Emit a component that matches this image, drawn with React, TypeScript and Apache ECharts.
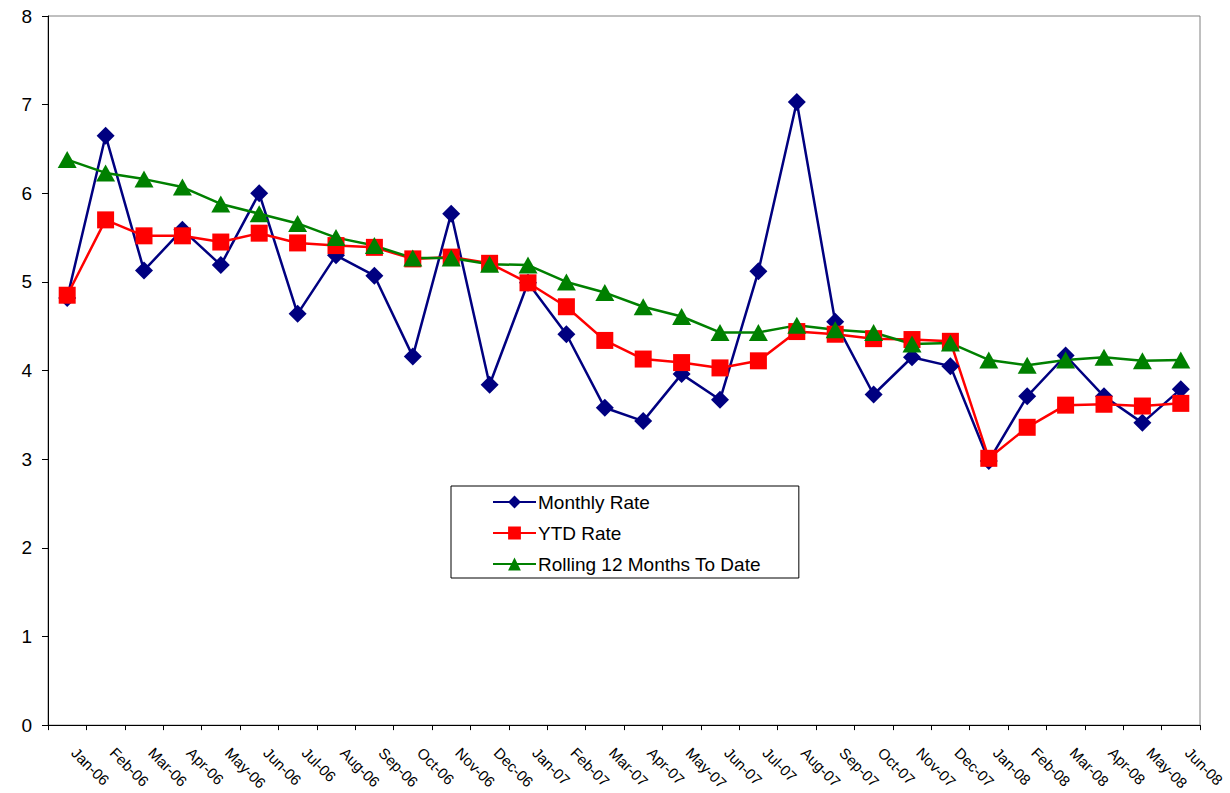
import React, { useEffect, useRef } from "react";
import * as echarts from "echarts";

const months = [
  "Jan-06", "Feb-06", "Mar-06", "Apr-06", "May-06", "Jun-06", "Jul-06", "Aug-06", "Sep-06", "Oct-06", "Nov-06", "Dec-06",
  "Jan-07", "Feb-07", "Mar-07", "Apr-07", "May-07", "Jun-07", "Jul-07", "Aug-07", "Sep-07", "Oct-07", "Nov-07", "Dec-07",
  "Jan-08", "Feb-08", "Mar-08", "Apr-08", "May-08", "Jun-08",
];

const monthlyRate = [
  4.82, 6.65, 5.13, 5.59, 5.19, 6.0, 4.64, 5.3, 5.07, 4.16, 5.77, 3.84,
  4.99, 4.41, 3.58, 3.43, 3.96, 3.67, 5.12, 7.03, 4.55, 3.73, 4.15, 4.05,
  2.98, 3.71, 4.17, 3.71, 3.41, 3.79,
];

const ytdRate = [
  4.85, 5.7, 5.52, 5.52, 5.45, 5.55, 5.44, 5.41, 5.39, 5.26, 5.28, 5.21,
  4.99, 4.72, 4.34, 4.13, 4.09, 4.03, 4.11, 4.44, 4.41, 4.36, 4.35, 4.33,
  3.01, 3.36, 3.61, 3.62, 3.6, 3.63,
];

const rolling12 = [
  6.38, 6.23, 6.16, 6.07, 5.88, 5.77, 5.66, 5.5, 5.41, 5.27, 5.27, 5.2,
  5.19, 5.0, 4.88, 4.72, 4.61, 4.43, 4.43, 4.51, 4.46, 4.43, 4.3, 4.31,
  4.12, 4.06, 4.12, 4.15, 4.11, 4.12,
];

const seriesNames = ["Monthly Rate", "YTD Rate", "Rolling 12 Months To Date"];

export default function App() {
  const ref = useRef<HTMLDivElement>(null);

  useEffect(() => {
    if (!ref.current) return;
    const chart = echarts.init(ref.current, undefined, { renderer: "svg" });
    const font = "Liberation Sans, Arial, sans-serif";
    chart.setOption({
      animation: false,
      backgroundColor: "#ffffff",
      textStyle: { fontFamily: font },
      grid: {
        left: 48,
        right: 30,
        top: 16,
        bottom: 67,
        show: true,
        borderColor: "#808080",
        borderWidth: 1,
        backgroundColor: "transparent",
      },
      legend: {
        orient: "vertical",
        left: 451,
        top: 486,
        padding: [5, 38, 3, 41],
        itemGap: 9,
        itemWidth: 43,
        itemHeight: 16,
        borderColor: "#000000",
        borderWidth: 1,
        backgroundColor: "#ffffff",
        textStyle: { fontFamily: font, fontSize: 19, color: "#000000", lineHeight: 22, padding: [0, 0, 0, -3] },
        data: seriesNames,
      },
      xAxis: {
        type: "category",
        data: months,
        boundaryGap: true,
        axisLine: { lineStyle: { color: "#000000", width: 1 } },
        axisTick: { show: true, length: 5, lineStyle: { color: "#000000" } },
        axisLabel: {
          interval: 0,
          rotate: -45,
          margin: 18,
          padding: [0, 0, 0, 10],
          fontSize: 15,
          color: "#000000",
          fontFamily: font,
        },
        splitLine: { show: false },
      },
      yAxis: {
        type: "value",
        min: 0,
        max: 8,
        interval: 1,
        axisLine: { show: true, lineStyle: { color: "#000000", width: 1 } },
        axisTick: { show: true, length: 6, lineStyle: { color: "#000000" } },
        axisLabel: { fontSize: 19, color: "#000000", margin: 16, fontFamily: font },
        splitLine: { show: false },
      },
      series: [
        {
          name: seriesNames[0],
          type: "line",
          data: monthlyRate,
          symbol: "diamond",
          symbolSize: 18,
          lineStyle: { color: "#000080", width: 2.5 },
          itemStyle: { color: "#000080" },
        },
        {
          name: seriesNames[1],
          type: "line",
          data: ytdRate,
          symbol: "rect",
          symbolSize: 17,
          lineStyle: { color: "#ff0000", width: 2.5 },
          itemStyle: { color: "#ff0000" },
        },
        {
          name: seriesNames[2],
          type: "line",
          data: rolling12,
          symbol: "triangle",
          symbolSize: [19, 17],
          lineStyle: { color: "#008000", width: 2.5 },
          itemStyle: { color: "#008000" },
        },
      ],
    });
    return () => chart.dispose();
  }, []);

  return (
    <div
      ref={ref}
      style={{ position: "absolute", left: 0, top: 0, width: 1230, height: 793, background: "#fff" }}
    />
  );
}
